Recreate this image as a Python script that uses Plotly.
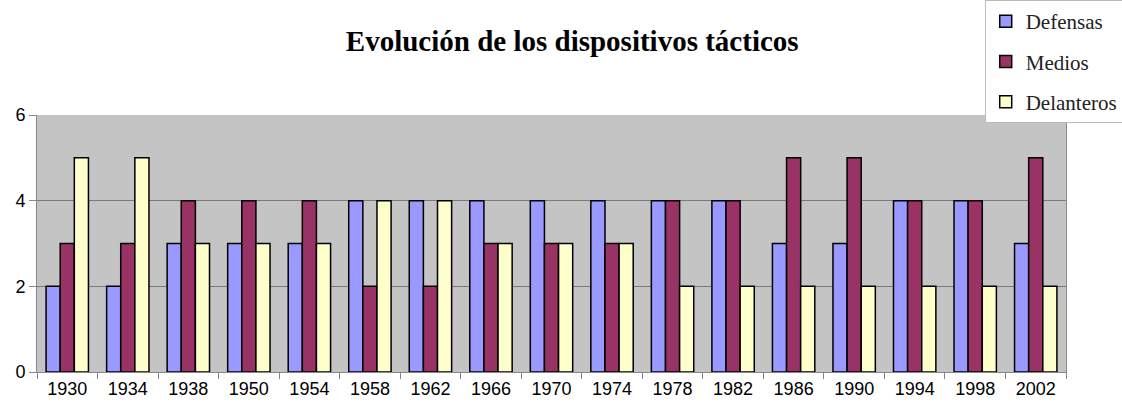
import plotly.graph_objects as go

years = ["1930", "1934", "1938", "1950", "1954", "1958", "1962", "1966", "1970",
         "1974", "1978", "1982", "1986", "1990", "1994", "1998", "2002"]
defensas = [2, 2, 3, 3, 3, 4, 4, 4, 4, 4, 4, 4, 3, 3, 4, 4, 3]
medios = [3, 3, 4, 4, 4, 2, 2, 3, 3, 3, 4, 4, 5, 5, 4, 4, 5]
delanteros = [5, 5, 3, 3, 3, 4, 4, 3, 3, 3, 2, 2, 2, 2, 2, 2, 2]

series = [("Defensas", defensas, "#9999FF"),
          ("Medios", medios, "#993366"),
          ("Delanteros", delanteros, "#FFFFCC")]

fig = go.Figure()
for i, (name, vals, col) in enumerate(series):
    fig.add_trace(go.Bar(x=years, y=vals, name=name, legendgroup=name,
                         marker=dict(color=col, line=dict(color="black", width=1.5))))

fig.update_layout(
    width=1122, height=412,
    margin=dict(l=37, r=56, t=115, b=40, autoexpand=False),
    paper_bgcolor="white",
    plot_bgcolor="#c4c4c4",
    barmode="group",
    bargap=0.3, bargroupgap=0,
    title=dict(text="<b>Evolución de los dispositivos tácticos</b>",
               font=dict(family="Liberation Serif", size=29, color="black"),
               x=0.51, xanchor="center", y=0.9, yanchor="middle"),
    legend=dict(x=0.921, xanchor="left", y=1.447, yanchor="top",
                bgcolor="white", bordercolor="#bbbbbb", borderwidth=1,
                font=dict(family="Liberation Serif", size=21, color="#222222"),
                tracegroupgap=10, itemwidth=30),
    showlegend=True,
)
fig.update_xaxes(type="category", ticks="outside", tickson="boundaries",
                 ticklen=6, tickcolor="#888888", showline=True, linecolor="#888888",
                 tickfont=dict(family="Liberation Sans", size=18, color="black"),
                 showgrid=False)
fig.update_yaxes(range=[0, 6], dtick=2, ticks="outside", ticklen=7,
                 tickcolor="#888888", showline=True, linecolor="#888888",
                 gridcolor="#7a7a7a", gridwidth=1, zeroline=False,
                 tickfont=dict(family="Liberation Sans", size=18, color="black"),
                 mirror=True)

fig.write_html("out.html", config={"displayModeBar": False},
               post_script="document.body.style.margin='0px';document.body.style.overflow='hidden';")
